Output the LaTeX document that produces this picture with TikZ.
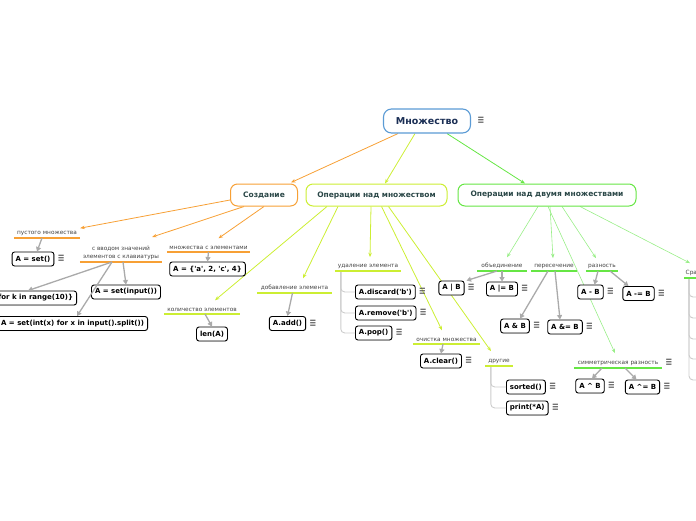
\documentclass[tikz,border=0pt]{standalone}
\usepackage{fontspec}
\setmainfont{DejaVu Sans}
\usetikzlibrary{arrows.meta,shadows}
\pgfdeclarelayer{bg}
\pgfsetlayers{bg,main}
\definecolor{orng}{HTML}{F7A035}
\definecolor{ylw}{HTML}{CCEE33}
\definecolor{grn}{HTML}{66E644}
\definecolor{lgrn}{HTML}{99EE88}
\definecolor{rootblue}{HTML}{5B9BD5}
\definecolor{navy}{HTML}{1B2F55}
\definecolor{hdtxt}{HTML}{2A4747}
\definecolor{labtxt}{HTML}{444444}
\definecolor{garr}{HTML}{AAAAAA}
\definecolor{treeg}{HTML}{CCCCCC}
\definecolor{menug}{HTML}{555555}
\newcommand{\menuicon}{\scalebox{1}[1.6]{≡}}
\begin{document}
\begin{tikzpicture}[x=1pt,y=-1pt,
  root/.style={draw=rootblue, line width=1.1pt, rounded corners=8pt, fill=white,
    minimum width=87pt, minimum height=24pt, font=\fontsize{9.5}{11}\selectfont\bfseries, text=navy},
  mainbox/.style={draw=#1, line width=1pt, rounded corners=7pt, fill=white,
    minimum height=22pt, font=\fontsize{7.5}{9}\selectfont\bfseries, text=hdtxt},
  code/.style={draw=black, line width=0.9pt, rounded corners=2.5pt, fill=white,
    minimum height=14pt, inner xsep=3.5pt, inner ysep=0pt,
    font=\fontsize{7}{8}\selectfont\bfseries,
    drop shadow={opacity=0.25, shadow xshift=0.6pt, shadow yshift=-0.6pt}},
  lab/.style={font=\fontsize{5.8}{8}\selectfont, text=labtxt, inner xsep=1.5pt, inner ysep=2.5pt, anchor=south, align=center},
  ul/.style={append after command={(\tikzlastnode.south west) edge[draw=#1, line width=1.3pt] (\tikzlastnode.south east)}},
  mn/.style={label={[font=\fontsize{8.5}{8}\selectfont, text=menug, inner sep=0pt, xshift=3pt]right:\menuicon}},
  hedge/.style={draw=#1, line width=0.8pt, -{Stealth[length=4.5pt,width=3.5pt]}},
  garrow/.style={draw=garr, line width=1.3pt, -{Triangle[length=4.5pt,width=5pt]}},
  treeln/.style={draw=treeg, line width=0.9pt, rounded corners=4pt}]
\useasboundingbox (0,0) rectangle (696,520);
\clip (0,0) rectangle (696,520);

% top levels
\node[root, label={[font=\fontsize{8.5}{8}\selectfont, text=menug, inner sep=0pt, xshift=6pt]right:\menuicon}] (root) at (427,121) {Множество};
\node[mainbox=orng, minimum width=67pt] (cre) at (264,195) {Создание};
\node[mainbox=ylw, minimum width=141pt] (op1) at (376.5,195) {Операции над множеством};
\node[mainbox=grn, minimum width=178pt] (op2) at (547,195) {Операции над двумя множествами};

% labels
\node[lab, ul=orng, minimum width=66pt] (lp) at (47,238) {пустого множества};
\node[lab, ul=orng, minimum width=82pt] (lv) at (121,262) {с вводом значений\\элементов с клавиатуры};
\node[lab, ul=orng, minimum width=83pt] (lm) at (208.5,252) {множества с элементами};
\node[lab, ul=ylw, minimum width=76pt] (lk) at (202,314) {количество элементов};
\node[lab, ul=ylw, minimum width=75pt] (la) at (294.5,293) {добавление элемента};
\node[lab, ul=ylw, minimum width=66pt] (ld) at (368,271) {удаление элемента};
\node[lab, ul=ylw, minimum width=67pt] (lc) at (446.5,344) {очистка множества};
\node[lab, ul=ylw, minimum width=28pt] (lo) at (499,366) {другие};
\node[lab, ul=grn, minimum width=50pt] (lu) at (502,271) {объединение};
\node[lab, ul=grn, minimum width=46pt] (li) at (554,271) {пересечение};
\node[lab, ul=grn, minimum width=32pt] (lr) at (602,271) {разность};
\node[lab, ul=grn, minimum width=88pt, mn] (ls) at (618,368) {симметрическая разность};
\node[lab, ul=grn, anchor=south west, text width=57pt, align=left] (lq) at (684,278) {Сравнение};

% code boxes
\node[code, mn] (set0) at (33,259) {A = set()};
\node[code, anchor=east] (rng) at (77,298) {A = \{k for k in range(10)\}};
\node[code] (inp) at (126,292) {A = set(input())};
\node[code, anchor=east] (spl) at (148,323.5) {A = set(int(x) for x in input().split())};
\node[code] (lit) at (207.5,269) {A = \{\textquotesingle a\textquotesingle, 2, \textquotesingle c\textquotesingle, 4\}};
\node[code] (len) at (212,334) {len(A)};
\node[code, mn] (add) at (287.5,323.5) {A.add()};
\node[code, mn, anchor=west] (dis) at (355,292) {A.discard(\textquotesingle b\textquotesingle)};
\node[code, mn, anchor=west] (rem) at (355,313) {A.remove(\textquotesingle b\textquotesingle)};
\node[code, mn, anchor=west] (pop) at (355,333) {A.pop()};
\node[code, mn] (clr) at (441,361) {A.clear()};
\node[code, mn, anchor=west] (srt) at (506,387) {sorted()};
\node[code, mn, anchor=west] (prt) at (506,408) {print(*A)};
\node[code, mn] (aor) at (451.5,288) {A | B};
\node[code, mn] (aore) at (502,289) {A |= B};
\node[code, mn] (aand) at (515,326) {A \& B};
\node[code, mn] (aande) at (565,327) {A \&= B};
\node[code, mn] (adif) at (590.5,292) {A - B};
\node[code, mn] (adife) at (638.5,293.5) {A -= B};
\node[code, mn] (asym) at (590,386) {A \textasciicircum{} B};
\node[code, mn] (asyme) at (642.5,387) {A \textasciicircum= B};

\begin{pgfonlayer}{bg}
\draw[hedge=orng] ([xshift=-29pt]root.south) -- ([xshift=27pt,yshift=1pt]cre.north);
\draw[hedge=ylw] ([xshift=-12pt]root.south) -- ([xshift=8.5pt]op1.north);
\draw[hedge=grn] ([xshift=20pt]root.south) -- ([xshift=-22pt]op2.north);

% orange edges
\draw[hedge=orng] ([yshift=-5pt]cre.west) -- (lp.north east);
\draw[hedge=orng] ([xshift=-20pt]cre.south) -- ([xshift=-10pt,yshift=6pt]lv.north east);
\draw[hedge=orng] (cre.south) -- ([xshift=10pt,yshift=5pt]lm.north);

% yellow edges
\draw[hedge=ylw] ([xshift=-49.5pt]op1.south) -- ([xshift=13pt,yshift=5pt]lk.north);
\draw[hedge=ylw] ([xshift=-38.5pt]op1.south) -- ([xshift=8.5pt,yshift=4pt]la.north);
\draw[hedge=ylw] ([xshift=-5.5pt]op1.south) -- ([xshift=2pt,yshift=4pt]ld.north);
\draw[hedge=ylw] ([xshift=5pt]op1.south) -- ([xshift=-4.5pt,yshift=5pt]lc.north);
\draw[hedge=ylw] ([xshift=12pt]op1.south) -- ([xshift=-8pt,yshift=5pt]lo.north);

% green edges
\draw[hedge=lgrn, line width=0.6pt] ([xshift=-9pt]op2.south) -- ([xshift=5pt,yshift=3pt]lu.north);
\draw[hedge=lgrn, line width=0.6pt] ([xshift=3pt]op2.south) -- ([xshift=-1pt,yshift=3pt]li.north);
\draw[hedge=lgrn, line width=0.6pt] ([xshift=15pt]op2.south) -- ([xshift=-6pt,yshift=3pt]lr.north);
\draw[hedge=lgrn, line width=0.6pt] ([xshift=1pt]op2.south) -- ([xshift=-3pt,yshift=5pt]ls.north);
\draw[hedge=lgrn, line width=0.6pt] ([xshift=33pt]op2.south) -- ([xshift=6pt,yshift=4pt]lq.north west);
\end{pgfonlayer}

% grey arrows
\draw[garrow] ([xshift=-5pt]lp.south) -- ([xshift=4pt]set0.north);
\draw[garrow] ([xshift=-9pt]lv.south) -- ([xshift=-49pt]rng.north east);
\draw[garrow] ([xshift=2pt]lv.south) -- (inp.north);
\draw[garrow] ([xshift=-9pt]lv.south) -- ([xshift=-71pt]spl.north east);
\draw[garrow] (lm.south) -- (lit.north);
\draw[garrow] ([xshift=3pt]lk.south) -- (len.north);
\draw[garrow] ([xshift=-2pt]la.south) -- (add.north);
\draw[garrow] ([xshift=-3.5pt]lc.south) -- (clr.north);
\draw[garrow] ([xshift=-5pt]lu.south) -- ([xshift=2pt]aor.north east);
\draw[garrow] (lu.south) -- (aore.north);
\draw[garrow] ([xshift=-6pt]li.south) -- ([xshift=5pt]aand.north);
\draw[garrow] ([xshift=1pt]li.south) -- ([xshift=-5pt]aande.north);
\draw[garrow] ([xshift=-4pt]lr.south) -- ([xshift=4pt]adif.north);
\draw[garrow] ([xshift=8pt]lr.south) -- ([xshift=-10pt]adife.north);
\draw[garrow] ([xshift=-16pt]ls.south) -- ([xshift=2pt]asym.north);
\draw[garrow] ([xshift=7pt]ls.south) -- ([xshift=-6pt]asyme.north);

% tree connectors
\draw[treeln] ([xshift=6pt,yshift=-1pt]ld.south west) |- (dis.west);
\draw[treeln] ([xshift=6pt,yshift=-1pt]ld.south west) |- (rem.west);
\draw[treeln] ([xshift=6pt,yshift=-1pt]ld.south west) |- (pop.west);
\draw[treeln] ([xshift=6pt,yshift=-1pt]lo.south west) |- (srt.west);
\draw[treeln] ([xshift=6pt,yshift=-1pt]lo.south west) |- (prt.west);
\coordinate (q1) at (705,297);
\coordinate (q2) at (705,318);
\coordinate (q3) at (705,339);
\coordinate (q4) at (705,359);
\coordinate (q5) at (705,380);
\foreach \q in {q1,q2,q3,q4,q5}
  \draw[treeln] ([xshift=5pt,yshift=-1pt]lq.south west) |- (\q);
\end{tikzpicture}
\end{document}
